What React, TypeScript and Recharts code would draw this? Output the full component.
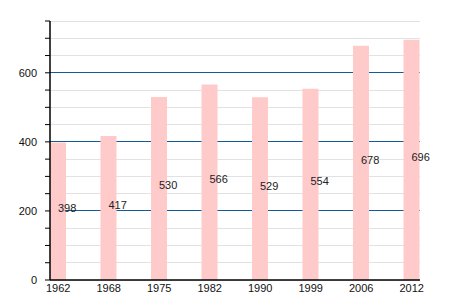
import React from "react";
import { BarChart, Bar, XAxis, YAxis, CartesianGrid, LabelList } from "recharts";

const years = ["1962", "1968", "1975", "1982", "1990", "1999", "2006", "2012"];
const population = [398, 417, 530, 566, 529, 554, 678, 696];
const yTicks = [0, 50, 100, 150, 200, 250, 300, 350, 400, 450, 500, 550, 600, 650, 700, 750];
const labelledTicks = [200, 400, 600];

const chartData = years.map((year, i) => ({ year, value: population[i] }));

const font = "'Liberation Sans', Arial, sans-serif";

function MidLabel(props: any) {
  const { x, y, width, height, value } = props;
  return (
    <text
      x={x + width / 2}
      y={y + height / 2 + 1}
      fontSize={11}
      fontFamily={font}
      fill="#222"
      textAnchor="start"
    >
      {value}
    </text>
  );
}

// grid lines: blue at the labelled values, light gray elsewhere
function GridLine(props: any) {
  const { x1, y1, x2, y2, index } = props;
  const major = labelledTicks.includes(yTicks[index]);
  return (
    <line
      x1={x1}
      y1={y1}
      x2={x2}
      y2={y2}
      stroke={major ? "#135a98" : "#e2e2e2"}
      strokeWidth={1}
      shapeRendering="crispEdges"
    />
  );
}

export default function App() {
  return (
    <div style={{ position: "absolute", left: 0, top: 0, width: 450, height: 300, background: "#fff" }}>
      <BarChart
        width={450}
        height={300}
        data={chartData}
        margin={{ top: 21, right: 30, left: 0, bottom: 0 }}
      >
        <CartesianGrid vertical={false} horizontal={GridLine} />
        <XAxis
          dataKey="year"
          padding={{ left: -17, right: -17 }}
          tickLine={false}
          tickSize={0}
          tickMargin={4}
          axisLine={{ stroke: "#000", strokeWidth: 1.5 }}
          tick={{ fill: "#111", fontSize: 11, fontFamily: font }}
          height={20}
        />
        <YAxis
          domain={[0, 750]}
          ticks={yTicks}
          interval={0}
          width={50}
          tickSize={5}
          tickMargin={8}
          tickFormatter={(v: number) => (v % 200 === 0 ? String(v) : "")}
          axisLine={{ stroke: "#000", strokeWidth: 1.5 }}
          tickLine={{ stroke: "#000" }}
          tick={{ fill: "#111", fontSize: 11, fontFamily: font }}
        />
        <Bar dataKey="value" fill="#ffcaca" barSize={16} isAnimationActive={false}>
          <LabelList dataKey="value" content={MidLabel} />
        </Bar>
      </BarChart>
    </div>
  );
}
